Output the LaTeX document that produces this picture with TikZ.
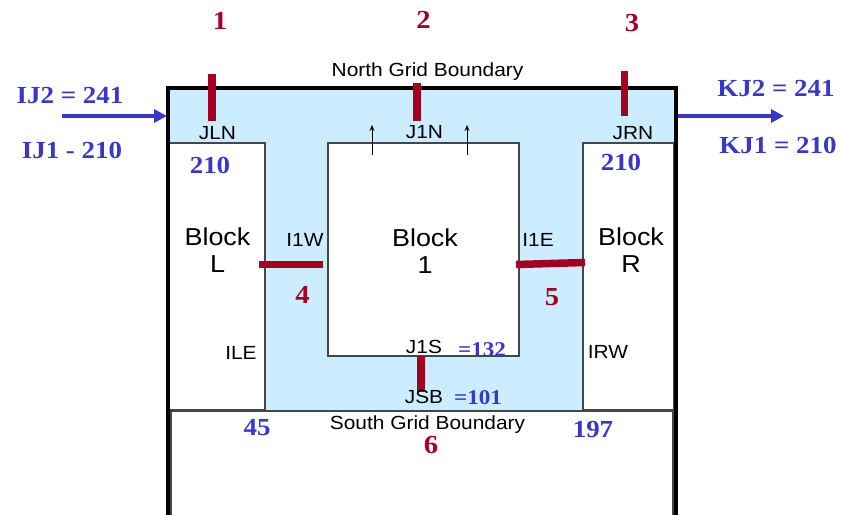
\documentclass[tikz,border=0pt]{standalone}
\usepackage{fontspec}
\setmainfont[FakeStretch=1.1]{Liberation Sans}
\newfontfamily\numfont[FakeStretch=1.1]{Liberation Serif}
\usetikzlibrary{arrows.meta}
\definecolor{gridblue}{RGB}{55,55,205}
\definecolor{cutred}{RGB}{165,0,33}
\definecolor{chanblue}{RGB}{204,236,255}
\definecolor{edgegray}{RGB}{70,70,70}

\tikzset{
  lbl/.style={anchor=base, font=\fontsize{19}{21}\selectfont},
  blk/.style={anchor=base, align=center, font=\fontsize{24.5}{27}\selectfont},
  val/.style={anchor=base, text=gridblue, font=\numfont\bfseries\fontsize{24.5}{27}\selectfont},
  smallval/.style={val, font=\numfont\bfseries\fontsize{21}{23}\selectfont},
  cutnum/.style={anchor=base, text=cutred, font=\numfont\bfseries\fontsize{26}{28}\selectfont},
  cut/.style={cutred, line width=7.5pt},
  flow/.style={gridblue, line width=4pt, -{Triangle[length=13pt,width=13pt]}},
  cell/.style={draw=edgegray, line width=1.2pt, fill=white},
}

\begin{document}
\begin{tikzpicture}[x=1pt,y=-1pt]
    \useasboundingbox (0,0) rectangle (843,514);
    \clip (0,0) rectangle (843,514);

    % Channel
    \fill[chanblue] (169,88) rectangle (674,410);

    % Blocks
    \draw[cell] (169,143) rectangle (265,410);
    \draw[cell] (328,143) rectangle (519,356);
    \draw[cell] (583,143) rectangle (674,410);
    \draw[cell] (171,411) rectangle (673,530);

    % Frame
    \draw[line width=4pt] (167.5,530) -- (167.5,87.5) -- (675.5,87.5) -- (675.5,530);

    % Cuts
    \draw[cut] (212,74) -- (212,121);
    \draw[cut] (417,83) -- (417,121);
    \draw[cut] (624.5,71) -- (624.5,116);
    \draw[cut] (259,264.5) -- (323,264.5);
    \draw[cut] (516,264.5) -- (585,262.5);
    \draw[cut] (421,356) -- (421,392);

    % Cut numbers
    \node[cutnum] (c1) at (220,29) {1};
    \node[cutnum] (c2) at (423.5,28) {2};
    \node[cutnum] (c3) at (632,31) {3};
    \node[cutnum] (c4) at (302.5,303) {4};
    \node[cutnum] (c5) at (552,305) {5};
    \node[cutnum] (c6) at (431,453) {6};

    % Boundaries
    \node[lbl] (north) at (427.5,76) {North Grid Boundary};
    \node[lbl] (south) at (427.5,429) {South Grid Boundary};

    % Inflow and outflow
    \coordinate (west in) at (62,116);
    \coordinate (west gate) at (167,116);
    \coordinate (east gate) at (678,116);
    \coordinate (east out) at (784,116);
    \draw[flow] (west in) -- (west gate);
    \draw[flow] (east gate) -- (east out);
    \node[val] (ij2) at (70,103) {IJ2 = 241};
    \node[val] (ij1) at (72,158) {IJ1 - 210};
    \node[val] (kj2) at (776,96) {KJ2 = 241};
    \node[val] (kj1) at (778,153) {KJ1 = 210};

    % Junctions
    \node[lbl] (jln) at (217.5,139) {JLN};
    \node[lbl] (j1n) at (424.5,138) {J1N};
    \node[lbl] (jrn) at (633,139) {JRN};
    \node[lbl] (i1w) at (305,246) {I1W};
    \node[lbl] (i1e) at (538,246) {I1E};
    \node[lbl] (ile) at (241,359) {ILE};
    \node[lbl] (irw) at (608,358) {IRW};
    \node[lbl] (j1s) at (424,353) {J1S};
    \node[lbl] (jsb) at (424,403) {JSB};

    % Up arrows
    \coordinate (up1 foot) at (372,155);
    \coordinate (up1 head) at (372,125);
    \coordinate (up2 foot) at (467,155);
    \coordinate (up2 head) at (467,125);
    \draw[line width=1pt, -{Stealth[length=6pt,width=5pt]}] (up1 foot) -- (up1 head);
    \draw[line width=1pt, -{Stealth[length=6pt,width=5pt]}] (up2 foot) -- (up2 head);

    % Block names
    \node[blk] (blockL) at (217.5,272) {Block\\L};
    \node[blk] (block1) at (425,273) {Block\\1};
    \node[blk] (blockR) at (631,272) {Block\\R};

    % Values
    \node[val] (vL) at (210,173) {210};
    \node[val] (vR) at (621,170) {210};
    \node[smallval] (v132) at (482,356) {=132};
    \node[smallval] (v101) at (478,404) {=101};
    \node[val] (v45) at (257,435) {45};
    \node[val] (v197) at (593,437) {197};
\end{tikzpicture}
\end{document}
